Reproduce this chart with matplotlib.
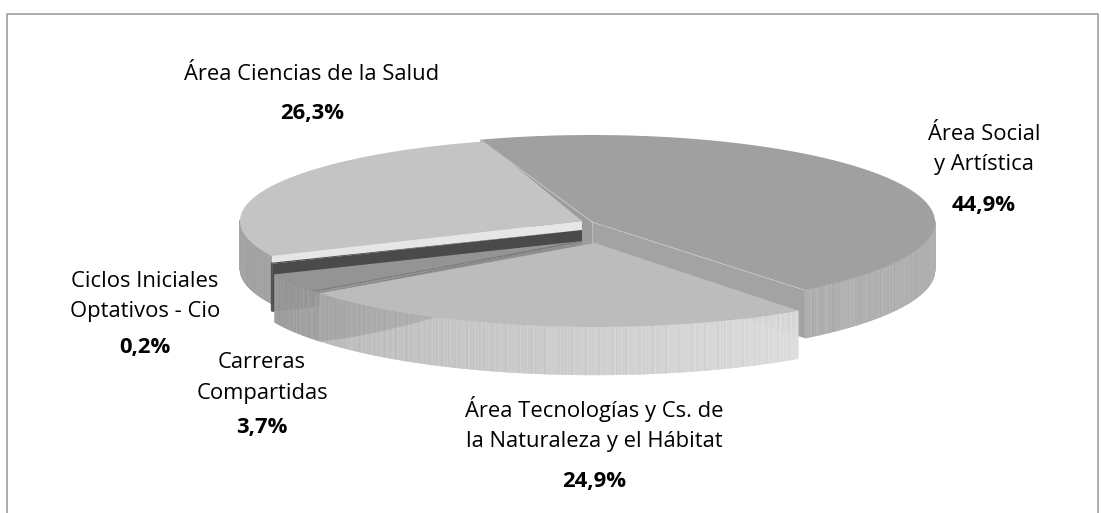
import numpy as np
import matplotlib
matplotlib.use('Agg')
import matplotlib.pyplot as plt
from matplotlib.patches import Polygon

categories = ['Área Social\ny Artística', 'Área Tecnologías y Cs. de\nla Naturaleza y el Hábitat',
              'Carreras\nCompartidas', 'Ciclos Iniciales\nOptativos - Cio', 'Área Ciencias de la Salud']
values = [44.9, 24.9, 3.7, 0.2, 26.3]
labels = ['44,9%', '24,9%', '3,7%', '0,2%', '26,3%']

# layout of the exploded pie, in pixels
start_angle = 108
center_x = [592, 595, 582, 582, 582]
center_y = [222, 243, 241, 230, 221]
radius_x = [343, 343, 335, 337, 342]
radius_y = [87, 84, 84, 85, 83]
# small angle corrections for the perspective of the original, degrees
extend_start = [1, 0, 2, 0, 2.3]
extend_end = [-2, 0, 0, 0, 1.5]
depth = 48
top_colors = ['#a0a0a0', '#bcbcbc', '#949494', '#4a4a4a', '#c4c4c4']
wall_from = [0.74, 0.86, 0.62, 0.29, 0.63]
wall_to = [0.67, 0.72, 0.60, 0.29, 0.70]
side_colors = ['#a3a3a3', '#bcbcbc', '#8f8f8f', '#4a4a4a', '#e6e6e6']
side_edge = [-1, None, 0, 0, 0]
text_pos = [(984, 149.5), (594, 424), (262, 378), (145, 296.5), (312, 74)]
pct_gap = [56.5, 57, 50, 50.5, 40]
stripes = [0.0, 0.02, -0.01, 0.015, -0.015, 0.03, 0.0, -0.02, 0.01]

plt.rcParams['font.family'] = ['Open Sans', 'DejaVu Sans']
fig = plt.figure(figsize=(11.01, 5.13), dpi=100)
ax = fig.add_axes([0, 0, 1, 1])
ax.set_xlim(0, 1101)
ax.set_ylim(513, 0)
ax.axis('off')

# frame, open at the bottom
ax.plot([6.5, 6.5, 1098, 1098], [513, 13.5, 13.5, 513], color='#a6a6a6', lw=1.3)

edges = start_angle - np.cumsum([0] + values) * 3.6


def rim(i, t):
    t = np.radians(t)
    return center_x[i] + radius_x[i] * np.cos(t), center_y[i] - radius_y[i] * np.sin(t)


def draw_slice(i, z):
    a0, a1 = edges[i] + extend_start[i], edges[i + 1] - extend_end[i]
    t = np.linspace(a0, a1, max(int(abs(a1 - a0) * 4), 3))
    x, y = rim(i, t)
    cx, cy = center_x[i], center_y[i]
    # outer wall as thin vertical strips, only the part facing the viewer
    for k in range(len(t) - 1):
        if np.sin(np.radians(t[k])) > 0.02:
            continue
        g = wall_from[i] + (wall_to[i] - wall_from[i]) * k / (len(t) - 1)
        g = float(np.clip(g + stripes[k % len(stripes)], 0, 1))
        ax.fill([x[k], x[k + 1], x[k + 1], x[k]],
                [y[k], y[k + 1], y[k + 1] + depth, y[k] + depth],
                color=str(g), lw=0.3, zorder=z)
        # darker wedge on the left end of the Tecnologías wall
        if i == 1 and x[k] < x[-1] + 115:
            f = (x[k] - x[-1]) / 115
            ax.fill([x[k], x[k + 1], x[k + 1], x[k]],
                    [y[k], y[k + 1], y[k + 1] + depth * (1 - f), y[k] + depth * (1 - f)],
                    color=str(g - 0.07), lw=0.3, zorder=z + 0.1)
    # radial wall that shows towards the viewer
    if side_edge[i] is not None:
        ex, ey = x[side_edge[i]], y[side_edge[i]]
        ax.add_patch(Polygon([(cx, cy), (ex, ey), (ex, ey + depth), (cx, cy + depth)],
                             color=side_colors[i], lw=0, zorder=z))
    ax.add_patch(Polygon(np.r_[[[cx, cy]], np.c_[x, y]], color=top_colors[i], lw=0, zorder=z + 0.5))


# back wall of the Social slice, it shows in the gap next to Ciencias
bx, by = rim(0, edges[0] + extend_start[0])
ax.add_patch(Polygon([(center_x[0], center_y[0]), (bx, by), (bx, by + depth), (center_x[0], center_y[0] + depth)],
                     color='#9c9c9c', lw=0, zorder=0.5))

for z, i in enumerate([4, 3, 2, 0, 1]):
    draw_slice(i, z + 1)

# thin dashed edges between top faces and walls
ex, ey = rim(0, edges[1] - extend_end[0])
ax.plot([center_x[0], ex], [center_y[0], ey], color='#d0d0d0', lw=0.6, ls=(0, (3, 1)), zorder=4.8)
ax.plot([bx, center_x[0]], [by, center_y[0]], color='#c8c8c8', lw=0.6, zorder=4.8)
ex, ey = rim(2, edges[2])
ax.plot([center_x[2], ex], [center_y[2], ey], color='#6e6e6e', lw=0.6, ls=(0, (3, 1)), zorder=3.8)
ax.plot([center_x[0], center_x[0]], [center_y[0], center_y[1]], color='#c0c0c0', lw=0.6, zorder=4.8)

for i in range(len(values)):
    tx, ty = text_pos[i]
    ax.text(tx, ty, categories[i], ha='center', va='center', fontsize=15.8, linespacing=1.6,
            color='black', zorder=9)
    ax.text(tx, ty + pct_gap[i], labels[i], ha='center', va='center', fontsize=15.8,
            fontweight='bold', color='black', zorder=9)

fig.savefig('out.png', dpi=100)
